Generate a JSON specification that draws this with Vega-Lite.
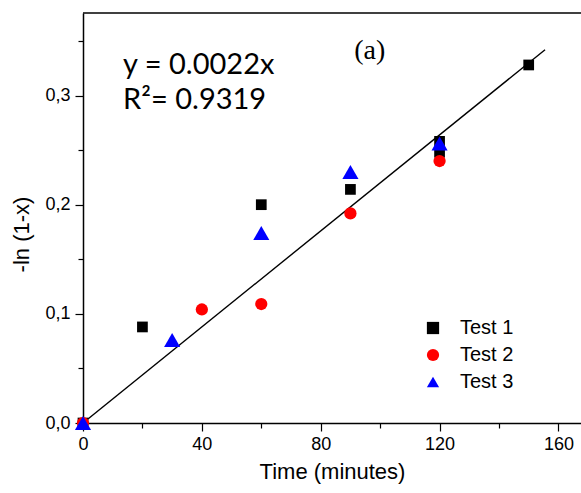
{
  "$schema": "https://vega.github.io/schema/vega-lite/v6.json",
  "width": 498,
  "height": 410,
  "autosize": {"type": "none"},
  "padding": {"left": 83, "top": 13, "right": 0, "bottom": 70},
  "background": "white",
  "config": {"view": {"stroke": null}, "font": "Liberation Sans"},
  "datasets": {
    "pts": [
      {"time": 20, "val": 0.088, "test": "Test 1"},
      {"time": 60, "val": 0.2, "test": "Test 1"},
      {"time": 90, "val": 0.214, "test": "Test 1"},
      {"time": 120, "val": 0.248, "test": "Test 1"},
      {"time": 120, "val": 0.258, "test": "Test 1"},
      {"time": 150, "val": 0.328, "test": "Test 1"},
      {"time": 0, "val": 0, "test": "Test 1"},
      {"time": 40, "val": 0.104, "test": "Test 2"},
      {"time": 60, "val": 0.109, "test": "Test 2"},
      {"time": 90, "val": 0.192, "test": "Test 2"},
      {"time": 120, "val": 0.24, "test": "Test 2"},
      {"time": 0, "val": 0, "test": "Test 2"},
      {"time": 30, "val": 0.076, "test": "Test 3"},
      {"time": 60, "val": 0.174, "test": "Test 3"},
      {"time": 90, "val": 0.23, "test": "Test 3"},
      {"time": 120, "val": 0.256, "test": "Test 3"},
      {"time": 0, "val": 0, "test": "Test 3"}
    ],
    "fit": [
      {"time": 0, "val": 0},
      {"time": 155.5, "val": 0.342}
    ],
    "top": [{"val": 0.3756}],
    "eq": [
      {"time": 13.5, "val": 0.328, "label": "y = 0.0022x"},
      {"time": 13.5, "val": 0.296, "label": "R²= 0.9319"}
    ],
    "tag": [
      {"time": 96.5, "val": 0.341, "label": "(a)"}
    ]
  },
  "layer": [
    {
      "data": {"name": "fit"},
      "mark": {"type": "line", "color": "black", "strokeWidth": 1.4},
      "encoding": {
        "x": {
          "field": "time", "type": "quantitative",
          "scale": {"domain": [0, 167.6], "nice": false, "zero": false},
          "axis": {
            "title": "Time (minutes)",
            "values": [0, 20, 40, 60, 80, 100, 120, 140, 160],
            "labelExpr": "datum.value % 40 == 0 ? datum.label : ''",
            "tickSize": {"condition": {"test": "datum.value % 40 == 0", "value": 8}, "value": 5},
            "tickColor": "black", "tickWidth": 1.2,
            "domainColor": "black", "domainWidth": 1.5,
            "labelFontSize": 18, "labelColor": "black", "labelPadding": 4,
            "labelFont": "Liberation Sans",
            "titleFont": "Liberation Sans", "titleFontSize": 22, "titleFontWeight": "normal",
            "titleColor": "black", "titlePadding": 8,
            "grid": false, "labelFlush": false, "labelOverlap": false
          }
        },
        "y": {
          "field": "val", "type": "quantitative",
          "scale": {"domain": [0, 0.3756], "nice": false, "zero": false},
          "axis": {
            "title": "-ln (1-x)",
            "values": [0, 0.05, 0.1, 0.15, 0.2, 0.25, 0.3, 0.35],
            "labelExpr": "round(datum.value * 20) % 2 == 0 ? replace(format(datum.value, '.1f'), '.', ',') : ''",
            "tickSize": {"condition": {"test": "round(datum.value * 20) % 2 == 0", "value": 8}, "value": 5},
            "tickColor": "black", "tickWidth": 1.2,
            "domainColor": "black", "domainWidth": 1.5,
            "labelFontSize": 18, "labelColor": "black", "labelPadding": 5,
            "labelFont": "Liberation Sans",
            "titleFont": "Liberation Sans", "titleFontSize": 22, "titleFontWeight": "normal",
            "titleColor": "black", "titleX": -50, "titleY": 221,
            "grid": false, "labelFlush": false, "labelOverlap": false
          }
        }
      }
    },
    {
      "data": {"name": "top"},
      "mark": {"type": "rule", "color": "black", "strokeWidth": 1.5},
      "encoding": {
        "y": {"field": "val", "type": "quantitative"}
      }
    },
    {
      "data": {"name": "pts"},
      "transform": [{"filter": "datum.test == 'Test 1'"}],
      "mark": {"type": "point", "filled": true, "opacity": 1, "strokeWidth": 0, "size": 115},
      "encoding": {
        "x": {"field": "time", "type": "quantitative"},
        "y": {"field": "val", "type": "quantitative"},
        "color": {
          "field": "test", "type": "nominal",
          "scale": {"domain": ["Test 1", "Test 2", "Test 3"], "range": ["#000000", "#ff0000", "#0000ff"]},
          "legend": {
            "title": null,
            "orient": "none",
            "legendX": 340,
            "legendY": 305,
            "padding": 0,
            "labelFontSize": 20,
            "labelFont": "Liberation Sans",
            "labelColor": "black",
            "labelOffset": 17,
            "rowPadding": 7,
            "symbolSize": 150
          }
        },
        "shape": {
          "field": "test", "type": "nominal",
          "scale": {"domain": ["Test 1", "Test 2", "Test 3"], "range": ["square", "circle", "triangle-up"]},
          "legend": {
            "title": null,
            "orient": "none",
            "legendX": 340,
            "legendY": 305,
            "padding": 0,
            "labelFontSize": 20,
            "labelFont": "Liberation Sans",
            "labelColor": "black",
            "labelOffset": 17,
            "rowPadding": 7,
            "symbolSize": 150
          }
        }
      }
    },
    {
      "data": {"name": "pts"},
      "transform": [{"filter": "datum.test == 'Test 2'"}],
      "mark": {"type": "point", "filled": true, "opacity": 1, "strokeWidth": 0, "size": 150},
      "encoding": {
        "x": {"field": "time", "type": "quantitative"},
        "y": {"field": "val", "type": "quantitative"},
        "color": {"field": "test", "type": "nominal"},
        "shape": {"field": "test", "type": "nominal"}
      }
    },
    {
      "data": {"name": "pts"},
      "transform": [{"filter": "datum.test == 'Test 3'"}],
      "mark": {"type": "point", "filled": true, "opacity": 1, "strokeWidth": 0, "size": 260},
      "encoding": {
        "x": {"field": "time", "type": "quantitative"},
        "y": {"field": "val", "type": "quantitative"},
        "color": {"field": "test", "type": "nominal"},
        "shape": {"field": "test", "type": "nominal"}
      }
    },
    {
      "data": {"name": "eq"},
      "mark": {"type": "text", "align": "left", "baseline": "middle", "font": "Lato", "fontSize": 29, "color": "black"},
      "encoding": {
        "x": {"field": "time", "type": "quantitative"},
        "y": {"field": "val", "type": "quantitative"},
        "text": {"field": "label"}
      }
    },
    {
      "data": {"name": "tag"},
      "mark": {"type": "text", "align": "center", "baseline": "middle", "font": "Liberation Serif", "fontSize": 28, "color": "black"},
      "encoding": {
        "x": {"field": "time", "type": "quantitative"},
        "y": {"field": "val", "type": "quantitative"},
        "text": {"field": "label"}
      }
    }
  ]
}
